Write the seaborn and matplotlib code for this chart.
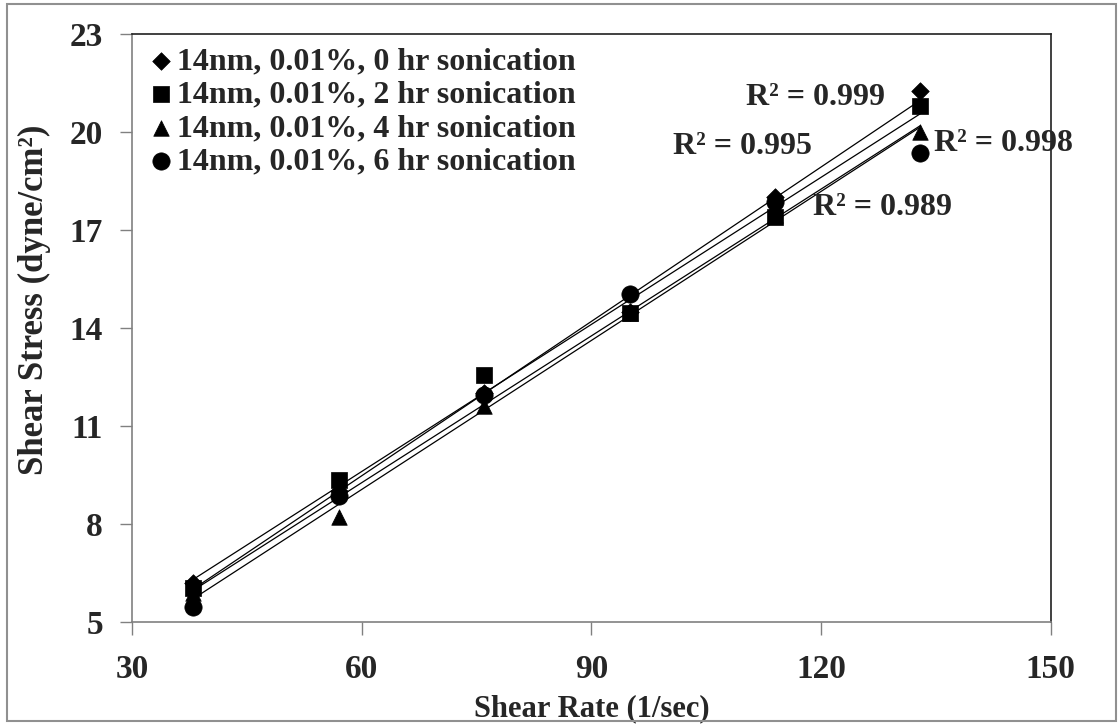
import numpy as np
import pandas as pd
import matplotlib
matplotlib.use("Agg")
import matplotlib.pyplot as plt
import seaborn as sns
from matplotlib.patches import Rectangle

# ---- data ----
shear_rate = [38, 57, 76, 95, 114, 133]
stress_0hr = [6.2, 9.0, 12.0, 14.5, 18.0, 21.25]
stress_2hr = [6.05, 9.35, 12.55, 14.45, 17.4, 20.8]
stress_4hr = [5.9, 8.2, 11.6, 14.45, 17.45, 20.0]
stress_6hr = [5.45, 8.85, 11.95, 15.05, 17.85, 19.35]
series_labels = ["14nm, 0.01%, 0 hr sonication",
                 "14nm, 0.01%, 2 hr sonication",
                 "14nm, 0.01%, 4 hr sonication",
                 "14nm, 0.01%, 6 hr sonication"]
r2_texts = ["R² = 0.999", "R² = 0.995", "R² = 0.998", "R² = 0.989"]
r2_pos = [(119.3, 21.07), (109.7, 19.55), (143.8, 19.65), (128.0, 17.7)]
x_ticks = [30, 60, 90, 120, 150]
y_ticks = [5, 8, 11, 14, 17, 20, 23]

sns.set_theme(style="white")
plt.rcParams['font.family'] = ['Liberation Serif', 'DejaVu Serif']
plt.rcParams['font.weight'] = 'bold'

df = pd.DataFrame({
    "x": shear_rate * 4,
    "y": stress_0hr + stress_2hr + stress_4hr + stress_6hr,
    "series": [s for s in series_labels for _ in shear_rate],
})

fig = plt.figure(figsize=(11.2, 7.24), dpi=100)
ax = fig.add_axes([0.118, 0.141, 0.82, 0.812])

markers = {series_labels[0]: "D", series_labels[1]: "s",
           series_labels[2]: "^", series_labels[3]: "o"}
sizes = {series_labels[0]: 80, series_labels[1]: 125,
         series_labels[2]: 125, series_labels[3]: 155}

for lab in series_labels:
    sub = df[df.series == lab]
    sns.regplot(data=sub, x="x", y="y", ax=ax, scatter=False, ci=None,
                truncate=True, color="black", line_kws={"lw": 0.9})
for lab in series_labels:
    sub = df[df.series == lab]
    sns.scatterplot(data=sub, x="x", y="y", ax=ax, marker=markers[lab],
                    s=sizes[lab], color="black", edgecolor="black",
                    linewidth=0.5, label=lab, zorder=3)

ax.set_xlim(30, 150)
ax.set_ylim(5, 23)
ax.set_xticks(x_ticks)
ax.set_yticks(y_ticks)
ax.tick_params(axis="both", which="major", direction="out", length=9,
               width=1, color="#808080", labelsize=24, bottom=True, left=True)
ax.tick_params(axis="x", pad=14)
ax.tick_params(axis="y", pad=12)
for t in ax.get_xticklabels() + ax.get_yticklabels():
    t.set_fontweight("bold")
ax.spines["left"].set_color("#808080")
ax.spines["bottom"].set_color("#808080")
ax.spines["top"].set_color("#202020")
ax.spines["right"].set_color("#202020")
for sp in ax.spines.values():
    sp.set_linewidth(1.2)

ax.set_xlabel("Shear Rate (1/sec)", fontsize=22, fontweight="bold")
ax.xaxis.label.set_va("center")
ax.xaxis.set_label_coords(0.5, -0.148)
ax.set_ylabel("Shear Stress (dyne/cm²)", fontsize=25, fontweight="bold")
ax.yaxis.label.set_va("center")
ax.yaxis.set_label_coords(-0.106, 0.548)

for txt, (px, py) in zip(r2_texts, r2_pos):
    ax.text(px, py, txt, fontsize=23, fontweight="bold", ha="center", va="center")

leg = ax.legend(loc="upper left", frameon=False, fontsize=23,
                handletextpad=0.0, borderaxespad=0.25, labelspacing=0.13,
                handlelength=1.0, borderpad=0.15)
for t in leg.get_texts():
    t.set_fontweight("bold")

fig.patches.append(Rectangle((0.006, 0.004), 0.99, 0.99, transform=fig.transFigure,
                             fill=False, edgecolor="#909090", lw=1.5))
fig.savefig("out.png", dpi=100)
